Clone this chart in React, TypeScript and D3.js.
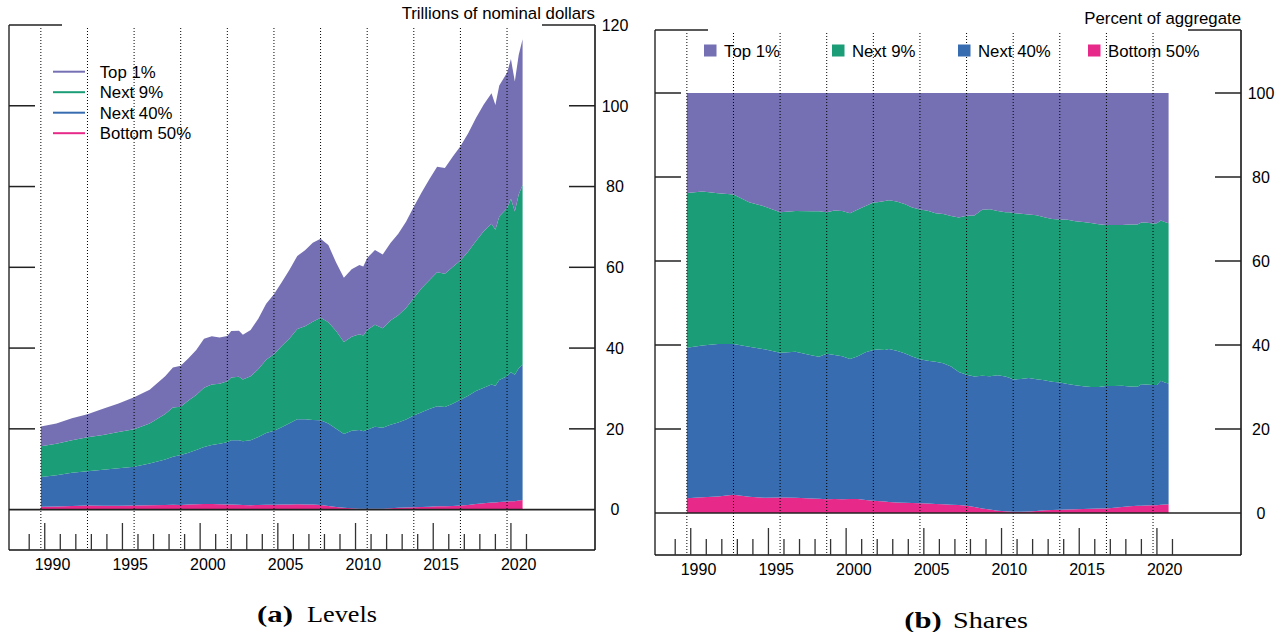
import React from 'react'
import * as d3 from 'd3'

// Distributional financial accounts, net worth by wealth group
const quarters = [
  '1989Q3', '1990Q3', '1991Q3', '1992Q3', '1993Q3', '1994Q3', '1995Q3', '1996Q3', '1997Q3', '1998Q1',
  '1998Q3', '1999Q1', '1999Q3', '2000Q1', '2000Q3', '2001Q1', '2001Q3', '2001Q4', '2002Q2', '2002Q3',
  '2003Q1', '2003Q3', '2004Q1', '2004Q3', '2005Q1', '2005Q3', '2006Q1', '2006Q3', '2007Q1', '2007Q3',
  '2008Q1', '2008Q3', '2009Q1', '2009Q3', '2010Q1', '2010Q2', '2010Q3', '2011Q1', '2011Q3', '2012Q1',
  '2012Q3', '2013Q1', '2013Q3', '2014Q1', '2014Q3', '2015Q1', '2015Q3', '2016Q1', '2016Q3', '2017Q1',
  '2017Q3', '2018Q1', '2018Q3', '2018Q4', '2019Q1', '2019Q3', '2019Q4', '2020Q1', '2020Q2', '2020Q3',
]

// trillions of nominal dollars
const top1 = [
  4.9, 5.0, 5.4, 5.7, 6.5, 7.1, 7.9, 8.35, 9.3, 9.9,
  10.1, 10.5, 11.1, 12.1, 11.9, 11.45, 11.2, 11.5, 11.4, 11.05,
  11.5, 12.5, 13.9, 14.8, 15.8, 17.0, 18.1, 18.8, 19.6, 19.6,
  19.1, 17.0, 15.9, 16.7, 17.2, 17.1, 17.8, 18.5, 18.3, 19.2,
  20.2, 21.4, 22.6, 23.7, 25.0, 26.1, 26.2, 27.3, 28.3, 29.3,
  30.5, 31.4, 32.3, 30.9, 32.4, 33.6, 34.6, 32.2, 34.6, 36.1,
]
const next9 = [
  7.6, 7.8, 8.1, 8.4, 8.6, 8.95, 9.3, 9.95, 11.3, 12.2,
  12.0, 12.9, 13.65, 14.7, 15.0, 14.85, 15.1, 15.5, 15.7, 15.35,
  15.8, 16.8, 18.1, 19.0, 20.1, 21.0, 22.3, 23.0, 24.3, 25.4,
  25.1, 24.2, 22.8, 23.3, 23.7, 23.7, 24.7, 25.3, 24.6, 25.8,
  26.5, 27.6, 29.1, 30.7, 31.9, 33.2, 33.0, 33.9, 34.5, 35.7,
  37.1, 38.7, 39.8, 38.6, 40.5, 41.6, 43.0, 40.4, 43.0, 44.5,
]
const next40 = [
  7.38, 7.7, 8.21, 8.47, 8.93, 9.29, 9.57, 10.33, 11.26, 11.9,
  12.33, 12.86, 13.45, 14.1, 14.58, 14.98, 15.45, 15.94, 16.0, 15.77,
  16.09, 16.84, 17.8, 18.27, 19.13, 20.12, 21.08, 21.12, 20.94, 20.96,
  20.38, 19.33, 18.21, 19.17, 19.46, 19.19, 19.61, 20.31, 20.08, 20.67,
  21.16, 21.77, 22.7, 23.43, 24.16, 24.79, 24.55, 25.28, 26.21, 27.03,
  28.04, 28.6, 29.25, 28.95, 30.21, 31.0, 31.94, 31.3, 32.75, 33.5,
]
const bottom50 = [
  0.72, 0.8, 0.89, 1.03, 0.97, 0.96, 1.03, 1.07, 1.14, 1.2,
  1.17, 1.24, 1.3, 1.4, 1.42, 1.32, 1.25, 1.26, 1.2, 1.13,
  1.11, 1.16, 1.2, 1.23, 1.27, 1.28, 1.32, 1.28, 1.26, 1.14,
  0.92, 0.67, 0.49, 0.33, 0.24, 0.21, 0.19, 0.19, 0.22, 0.33,
  0.44, 0.53, 0.6, 0.67, 0.74, 0.81, 0.85, 0.92, 0.99, 1.17,
  1.36, 1.6, 1.75, 1.75, 1.89, 2.0, 2.06, 2.1, 2.25, 2.4,
]

const groups = [
  { key: 'top1', label: 'Top 1%', color: '#7570b3' },
  { key: 'next9', label: 'Next 9%', color: '#1b9e77' },
  { key: 'next40', label: 'Next 40%', color: '#386cb0' },
  { key: 'bottom50', label: 'Bottom 50%', color: '#e7298a' },
]
const stackKeys = ['bottom50', 'next40', 'next9', 'top1']

const surveyYears = [1989, 1992, 1995, 1998, 2001, 2004, 2007, 2010, 2013, 2016, 2019]
const levelTicks = [0, 20, 40, 60, 80, 100, 120]
const shareTicks = [0, 20, 40, 60, 80, 100]
const yearLabels = [1990, 1995, 2000, 2005, 2010, 2015, 2020]
const tickYears = d3.range(1989, 2022)

const W = 586
const H = 525
const SANS = 'Liberation Sans, Arial, Helvetica, sans-serif'
const SERIF = 'Liberation Serif, Times New Roman, serif'

const quarterEnd = (q: string) => +q.slice(0, 4) + +q.slice(5) / 4

const rows = quarters.map((q, i) => ({
  t: quarterEnd(q),
  top1: top1[i],
  next9: next9[i],
  next40: next40[i],
  bottom50: bottom50[i],
}))

const x = d3.scaleLinear().domain([1987.7, 2025.41]).range([0, W])

interface PanelProps {
  left: number
  top: number
  y: d3.ScaleLinear<number, number>
  series: d3.Series<any, string>[]
  factor: number
  ticks: number[]
  title: string
  legend: 'lines' | 'boxes'
}

function Panel({ left, top, y, series, factor, ticks, title, legend }: PanelProps) {
  const area = d3.area<any>()
    .x(d => x(d.data.t))
    .y0(d => y(d[0] * factor))
    .y1(d => y(d[1] * factor))

  const color = (key: string) => groups.find(g => g.key === key)!.color
  const y0 = y(0)
  const ink = '#222'

  return (
    <g transform={`translate(${left},${top})`} fontFamily={SANS}>
      {series.map(s => (
        <path key={s.key} d={area(s) || ''} fill={color(s.key)} />
      ))}

      {/* survey dates */}
      {surveyYears.map(yr => (
        <line key={yr} x1={x(yr + 0.75)} x2={x(yr + 0.75)} y1={3} y2={H}
          stroke="#000" strokeWidth={1} strokeDasharray="1 2" />
      ))}

      {/* frame */}
      <line x1={0} x2={0} y1={0} y2={H} stroke="#666" strokeWidth={2} />
      <line x1={W} x2={W} y1={0} y2={H} stroke="#444" strokeWidth={2} />
      <line x1={0} x2={W} y1={H} y2={H} stroke="#111" strokeWidth={1.5} />
      <line x1={0} x2={53} y1={0} y2={0} stroke={ink} strokeWidth={1.5} />
      <line x1={W - 53} x2={W} y1={0} y2={0} stroke={ink} strokeWidth={1.5} />
      <line x1={0} x2={W} y1={y0} y2={y0} stroke={ink} strokeWidth={1.6} />

      {ticks.filter(v => v !== 0 && y(v) > 1).map(v => (
        <g key={v}>
          <line x1={0} x2={26} y1={y(v)} y2={y(v)} stroke={ink} strokeWidth={1.5} />
          <line x1={W - 26} x2={W} y1={y(v)} y2={y(v)} stroke={ink} strokeWidth={1.5} />
        </g>
      ))}
      {ticks.map(v => (
        <text key={v} x={W + 20} y={y(v) + 5.8} textAnchor="middle" fontSize={16} fill="#000">{v}</text>
      ))}
      <text x={W} y={-6.5} textAnchor="end" fontSize={16.8} fill="#000">{title}</text>

      {tickYears.map(yr => (
        <line key={yr} x1={x(yr)} x2={x(yr)} y1={H} y2={H - (yr % 5 === 0 ? 27 : 16)}
          stroke="#333" strokeWidth={1.3} />
      ))}
      {yearLabels.map(yr => (
        <text key={yr} x={x(yr + 0.5)} y={H + 20} textAnchor="middle" fontSize={16} fill="#000">{yr}</text>
      ))}

      {legend === 'lines' && groups.map((g, i) => (
        <g key={g.key} transform={`translate(44,${46.7 + i * 20.5})`}>
          <line x1={0} x2={32} y1={0} y2={0} stroke={g.color} strokeWidth={2} />
          <text x={46.7} y={5.8} fontSize={16.8} fill="#000">{g.label}</text>
        </g>
      ))}
      {legend === 'boxes' && groups.map((g, i) => (
        <g key={g.key} transform={`translate(${[49, 177, 303, 433][i]},14.5)`}>
          <rect x={0} y={0} width={12.5} height={12} fill={g.color} />
          <text x={20} y={12.3} fontSize={16.8} fill="#000">{g.label}</text>
        </g>
      ))}
    </g>
  )
}

export default function App() {
  const levelSeries = d3.stack<any>().keys(stackKeys)(rows)
  const shareSeries = d3.stack<any>().keys(stackKeys).offset(d3.stackOffsetExpand)(rows)

  const yLevels = d3.scaleLinear().domain([-10, 120]).range([H, 0])
  const yShares = d3.scaleLinear().domain([-10, 115]).range([H, 0])

  return (
    <div style={{ position: 'absolute', left: 0, top: 0, background: '#fff' }}>
      <svg width={1286} height={632} style={{ display: 'block' }}>
        <rect width={1286} height={632} fill="#fff" />
        <Panel left={9} top={25} y={yLevels} series={levelSeries} factor={1}
          ticks={levelTicks} title="Trillions of nominal dollars" legend="lines" />
        <Panel left={655} top={30} y={yShares} series={shareSeries} factor={100}
          ticks={shareTicks} title="Percent of aggregate" legend="boxes" />

        <g fontFamily={SERIF} fontSize={23} fill="#000">
          <text x={257} y={621.7} fontWeight="bold" textLength={36} lengthAdjust="spacingAndGlyphs">(a)</text>
          <text x={307} y={621.7} textLength={70} lengthAdjust="spacingAndGlyphs">Levels</text>
          <text x={904.3} y={627.7} fontWeight="bold" textLength={37.5} lengthAdjust="spacingAndGlyphs">(b)</text>
          <text x={953} y={627.7} textLength={75} lengthAdjust="spacingAndGlyphs">Shares</text>
        </g>
      </svg>
    </div>
  )
}
